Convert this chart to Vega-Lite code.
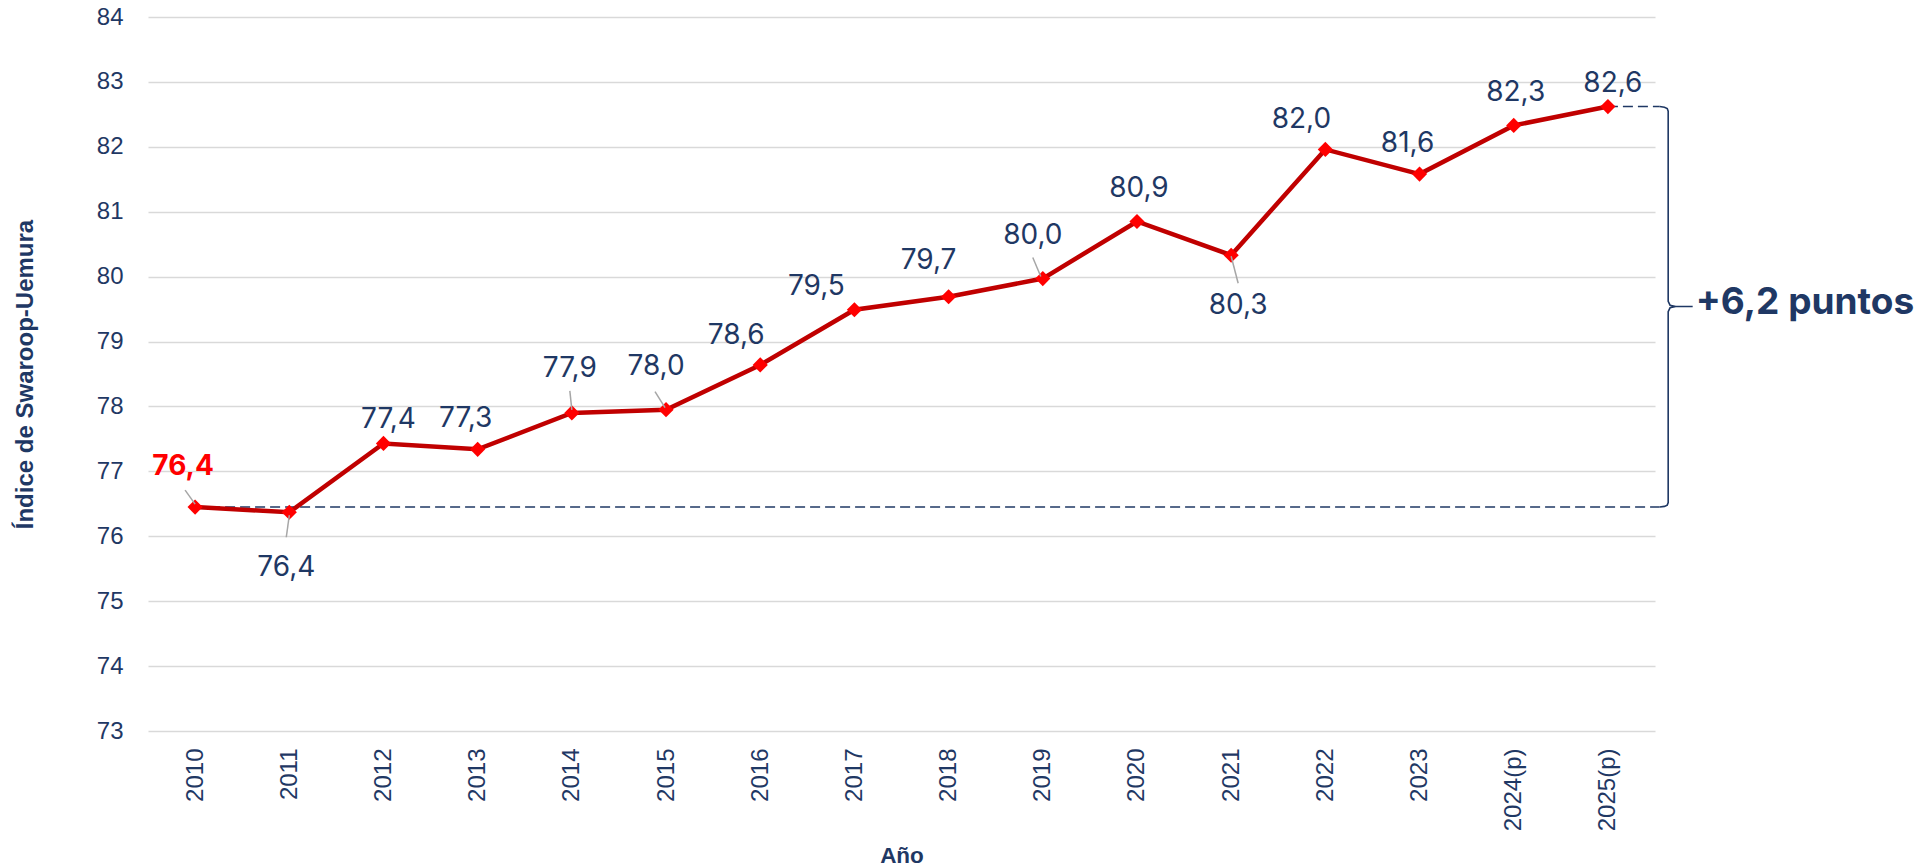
{
  "$schema": "https://vega.github.io/schema/vega-lite/v6.json",
  "autosize": "none",
  "width": 1507,
  "height": 714,
  "padding": {"left": 148, "top": 17, "right": 271, "bottom": 137},
  "background": "#FFFFFF",
  "config": {"view": {"stroke": null}},
  "datasets": {
    "serie": [
      {"year": 2010, "value": 76.45, "label": "76,4"},
      {"year": 2011, "value": 76.37, "label": "76,4"},
      {"year": 2012, "value": 77.43, "label": "77,4"},
      {"year": 2013, "value": 77.34, "label": "77,3"},
      {"year": 2014, "value": 77.90, "label": "77,9"},
      {"year": 2015, "value": 77.95, "label": "78,0"},
      {"year": 2016, "value": 78.64, "label": "78,6"},
      {"year": 2017, "value": 79.49, "label": "79,5"},
      {"year": 2018, "value": 79.69, "label": "79,7"},
      {"year": 2019, "value": 79.97, "label": "80,0"},
      {"year": 2020, "value": 80.85, "label": "80,9"},
      {"year": 2021, "value": 80.33, "label": "80,3"},
      {"year": 2022, "value": 81.96, "label": "82,0"},
      {"year": 2023, "value": 81.58, "label": "81,6"},
      {"year": 2024, "value": 82.33, "label": "82,3"},
      {"year": 2025, "value": 82.62, "label": "82,6"}
    ],
    "brace": [
      {"k": 1, "year": 2025.55, "value": 82.62, "note": ""},
      {"k": 2, "year": 2025.60, "value": 82.61, "note": ""},
      {"k": 3, "year": 2025.63, "value": 82.59, "note": ""},
      {"k": 4, "year": 2025.64, "value": 82.55, "note": ""},
      {"k": 5, "year": 2025.64, "value": 79.62, "note": ""},
      {"k": 6, "year": 2025.66, "value": 79.56, "note": ""},
      {"k": 7, "year": 2025.72, "value": 79.54, "note": ""},
      {"k": 8, "year": 2025.90, "value": 79.54, "note": "+6,2 puntos"},
      {"k": 9, "year": 2025.72, "value": 79.54, "note": ""},
      {"k": 10, "year": 2025.66, "value": 79.52, "note": ""},
      {"k": 11, "year": 2025.64, "value": 79.46, "note": ""},
      {"k": 12, "year": 2025.64, "value": 76.52, "note": ""},
      {"k": 13, "year": 2025.63, "value": 76.48, "note": ""},
      {"k": 14, "year": 2025.60, "value": 76.46, "note": ""},
      {"k": 15, "year": 2025.55, "value": 76.45, "note": ""}
    ]
  },
  "data": {"name": "serie"},
  "encoding": {
    "x": {
      "field": "year", "type": "quantitative",
      "scale": {"domain": [2009.5, 2025.5], "nice": false, "zero": false},
      "axis": {
        "title": "Año",
        "values": [2010, 2011, 2012, 2013, 2014, 2015, 2016, 2017, 2018, 2019, 2020, 2021, 2022, 2023, 2024, 2025],
        "format": "d",
        "labelExpr": "datum.value >= 2024 ? datum.label + '(p)' : datum.label",
        "labelAngle": -90,
        "labelFont": "Liberation Sans",
        "labelFontSize": 24,
        "labelColor": "#1F3864",
        "labelPadding": 17,
        "labelFlush": false,
        "labelOverlap": false,
        "ticks": false,
        "domain": false,
        "grid": false,
        "titleFont": "Liberation Sans",
        "titleFontSize": 22.5,
        "titleFontWeight": "bold",
        "titleColor": "#1F3864",
        "titleBaseline": "alphabetic",
        "titleY": 131
      }
    },
    "y": {
      "field": "value", "type": "quantitative",
      "scale": {"domain": [73, 84], "nice": false, "zero": false},
      "axis": {
        "title": "Índice de Swaroop-Uemura",
        "values": [73, 74, 75, 76, 77, 78, 79, 80, 81, 82, 83, 84],
        "labelFont": "Liberation Sans",
        "labelFontSize": 24,
        "labelColor": "#1F3864",
        "labelPadding": 25,
        "labelFlush": false,
        "labelOverlap": false,
        "ticks": false,
        "domain": false,
        "grid": true,
        "gridColor": "#D9D9D9",
        "gridWidth": 1.5,
        "titleFont": "Liberation Sans",
        "titleFontSize": 24,
        "titleFontWeight": "bold",
        "titleColor": "#1F3864",
        "titleAngle": 270,
        "titleAlign": "center",
        "titleBaseline": "middle",
        "titleX": -123,
        "titleY": 357
      }
    }
  },
  "layer": [
    {
      "transform": [{"filter": "datum.year == 2010"}],
      "mark": {"type": "rule", "color": "#1F3864", "strokeWidth": 1.5, "strokeDash": [10, 5]},
      "encoding": {"x2": {"datum": 2025.55}}
    },
    {
      "transform": [{"filter": "datum.year == 2025"}],
      "mark": {"type": "rule", "color": "#1F3864", "strokeWidth": 1.5, "strokeDash": [10, 5]},
      "encoding": {"x2": {"datum": 2025.55}}
    },
    {
      "data": {"name": "brace"},
      "mark": {"type": "line", "color": "#1F3864", "strokeWidth": 1.6, "interpolate": "linear"},
      "encoding": {"order": {"field": "k", "type": "quantitative"}}
    },
    {
      "data": {"name": "brace"},
      "transform": [{"filter": "datum.k == 8"}],
      "mark": {"type": "text", "font": "Inter", "fontSize": 37, "fontWeight": "bold", "color": "#1F3864", "align": "left", "baseline": "middle", "dx": 3, "dy": -3},
      "encoding": {"text": {"field": "note"}}
    },
    {
      "mark": {"type": "line", "color": "#C00000", "strokeWidth": 4.5}
    },
    {
      "mark": {"type": "point", "shape": "diamond", "filled": true, "color": "#FF0000", "size": 230, "opacity": 1}
    },
    {
      "transform": [{"filter": "datum.year == 2010"}],
      "mark": {"type": "rule", "color": "#A6A6A6", "strokeWidth": 1.5, "xOffset": 0, "yOffset": -3, "x2Offset": -10, "y2Offset": -17},
      "encoding": {"x2": {"field": "year"}, "y2": {"field": "value"}}
    },
    {
      "transform": [{"filter": "datum.year == 2011"}],
      "mark": {"type": "rule", "color": "#A6A6A6", "strokeWidth": 1.5, "xOffset": 0, "yOffset": 3, "x2Offset": -3, "y2Offset": 25},
      "encoding": {"x2": {"field": "year"}, "y2": {"field": "value"}}
    },
    {
      "transform": [{"filter": "datum.year == 2014"}],
      "mark": {"type": "rule", "color": "#A6A6A6", "strokeWidth": 1.5, "xOffset": 0, "yOffset": -3, "x2Offset": -2, "y2Offset": -22},
      "encoding": {"x2": {"field": "year"}, "y2": {"field": "value"}}
    },
    {
      "transform": [{"filter": "datum.year == 2015"}],
      "mark": {"type": "rule", "color": "#A6A6A6", "strokeWidth": 1.5, "xOffset": -1, "yOffset": -2, "x2Offset": -11, "y2Offset": -18},
      "encoding": {"x2": {"field": "year"}, "y2": {"field": "value"}}
    },
    {
      "transform": [{"filter": "datum.year == 2019"}],
      "mark": {"type": "rule", "color": "#A6A6A6", "strokeWidth": 1.5, "xOffset": -2, "yOffset": -2, "x2Offset": -10, "y2Offset": -21},
      "encoding": {"x2": {"field": "year"}, "y2": {"field": "value"}}
    },
    {
      "transform": [{"filter": "datum.year == 2021"}],
      "mark": {"type": "rule", "color": "#A6A6A6", "strokeWidth": 1.5, "xOffset": 0, "yOffset": 1, "x2Offset": 7, "y2Offset": 28},
      "encoding": {"x2": {"field": "year"}, "y2": {"field": "value"}}
    },
    {
      "transform": [{"filter": {"field": "year", "oneOf": [2012, 2025]}}],
      "mark": {"type": "text", "font": "Inter", "fontSize": 28, "color": "#1F3864", "align": "center", "baseline": "middle", "dx": 5, "dy": -23},
      "encoding": {"text": {"field": "label"}}
    },
    {
      "transform": [{"filter": {"field": "year", "oneOf": [2020, 2024]}}],
      "mark": {"type": "text", "font": "Inter", "fontSize": 28, "color": "#1F3864", "align": "center", "baseline": "middle", "dx": 2, "dy": -32},
      "encoding": {"text": {"field": "label"}}
    },
    {
      "transform": [{"filter": {"field": "year", "oneOf": [2013, 2023]}}],
      "mark": {"type": "text", "font": "Inter", "fontSize": 28, "color": "#1F3864", "align": "center", "baseline": "middle", "dx": -12, "dy": -30},
      "encoding": {"text": {"field": "label"}}
    },
    {
      "transform": [{"filter": {"field": "year", "oneOf": [2016, 2022]}}],
      "mark": {"type": "text", "font": "Inter", "fontSize": 28, "color": "#1F3864", "align": "center", "baseline": "middle", "dx": -24, "dy": -29},
      "encoding": {"text": {"field": "label"}}
    },
    {
      "transform": [{"filter": {"field": "year", "oneOf": [2018]}}],
      "mark": {"type": "text", "font": "Inter", "fontSize": 28, "color": "#1F3864", "align": "center", "baseline": "middle", "dx": -20, "dy": -36},
      "encoding": {"text": {"field": "label"}}
    },
    {
      "transform": [{"filter": {"field": "year", "oneOf": [2017]}}],
      "mark": {"type": "text", "font": "Inter", "fontSize": 28, "color": "#1F3864", "align": "center", "baseline": "middle", "dx": -38, "dy": -23},
      "encoding": {"text": {"field": "label"}}
    },
    {
      "transform": [{"filter": {"field": "year", "oneOf": [2015, 2019]}}],
      "mark": {"type": "text", "font": "Inter", "fontSize": 28, "color": "#1F3864", "align": "center", "baseline": "middle", "dx": -10, "dy": -43},
      "encoding": {"text": {"field": "label"}}
    },
    {
      "transform": [{"filter": {"field": "year", "oneOf": [2014]}}],
      "mark": {"type": "text", "font": "Inter", "fontSize": 28, "color": "#1F3864", "align": "center", "baseline": "middle", "dx": -2, "dy": -44},
      "encoding": {"text": {"field": "label"}}
    },
    {
      "transform": [{"filter": {"field": "year", "oneOf": [2010]}}],
      "mark": {"type": "text", "font": "Inter", "fontSize": 28, "fontWeight": "bold", "color": "#FF0000", "align": "center", "baseline": "middle", "dx": -12, "dy": -40},
      "encoding": {"text": {"field": "label"}}
    },
    {
      "transform": [{"filter": {"field": "year", "oneOf": [2011]}}],
      "mark": {"type": "text", "font": "Inter", "fontSize": 28, "color": "#1F3864", "align": "center", "baseline": "middle", "dx": -3, "dy": 56},
      "encoding": {"text": {"field": "label"}}
    },
    {
      "transform": [{"filter": {"field": "year", "oneOf": [2021]}}],
      "mark": {"type": "text", "font": "Inter", "fontSize": 28, "color": "#1F3864", "align": "center", "baseline": "middle", "dx": 7, "dy": 51},
      "encoding": {"text": {"field": "label"}}
    }
  ]
}
